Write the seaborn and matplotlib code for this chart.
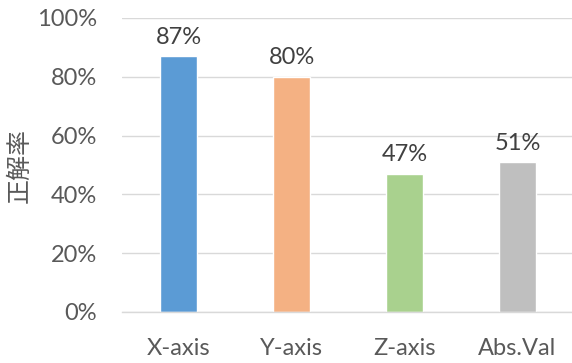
import matplotlib
matplotlib.use("Agg")
import matplotlib.pyplot as plt
import seaborn as sns
import pandas as pd

categories = ["X-axis", "Y-axis", "Z-axis", "Abs.Val"]
accuracy = [0.87, 0.80, 0.47, 0.51]
bar_colors = ["#5B9BD5", "#F4B183", "#A9D18E", "#BFBFBF"]
y_ticks = [0.0, 0.2, 0.4, 0.6, 0.8, 1.0]
y_tick_labels = ["0%", "20%", "40%", "60%", "80%", "100%"]

sns.set_theme(style="white")
plt.rcParams["font.family"] = ["Lato", "Noto Sans CJK JP", "DejaVu Sans"]

text_color = "#595959"
grid_color = "#D9D9D9"

df = pd.DataFrame({"category": categories, "accuracy": accuracy})

fig = plt.figure(figsize=(5.72, 3.63), dpi=100)
ax = fig.add_axes([122 / 572, 51 / 363, 450 / 572, 294 / 363])

sns.barplot(data=df, x="category", y="accuracy", hue="category",
            palette=bar_colors, width=0.32, legend=False, ax=ax,
            saturation=1.0)

ax.set_xlim(-0.5, 3.482)
ax.set_ylim(0, 1.0)
ax.set_yticks(y_ticks)
ax.set_yticklabels(y_tick_labels)
ax.yaxis.grid(True, color=grid_color, linewidth=1.0)
ax.set_axisbelow(True)

for spine in ["top", "right", "left"]:
    ax.spines[spine].set_visible(False)
ax.spines["bottom"].set_color(grid_color)
ax.spines["bottom"].set_linewidth(1.0)

ax.tick_params(axis="both", length=0, labelsize=17, colors=text_color)
ax.tick_params(axis="y", pad=18)
ax.tick_params(axis="x", pad=19)

ax.set_xlabel("")
ax.set_ylabel("")
fig.text(20 / 572, 1 - 165 / 363, "正解率", rotation=90, ha="center", va="center",
         fontsize=18, color=text_color,
         family=["Noto Sans CJK JP", "DejaVu Sans"])

for i, v in enumerate(accuracy):
    ax.annotate(f"{round(v * 100)}%", xy=(i, v), xytext=(0, 6),
                textcoords="offset points", ha="center", va="bottom",
                fontsize=17, color="#404040")

fig.savefig("out.png", dpi=100)
